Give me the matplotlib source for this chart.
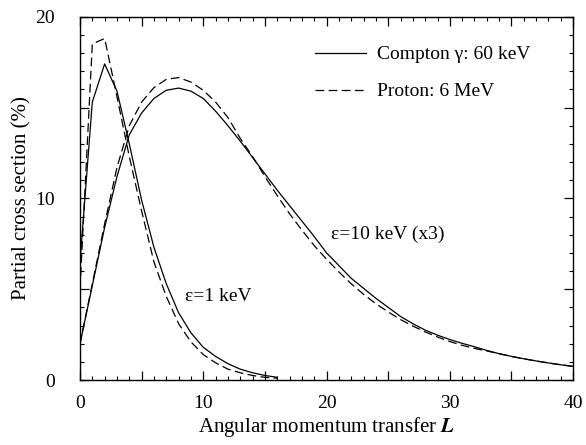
import numpy as np
import matplotlib
matplotlib.use('Agg')
import matplotlib.pyplot as plt
from matplotlib.ticker import MultipleLocator, FuncFormatter

plt.rcParams['font.family'] = ['Liberation Serif', 'DejaVu Serif']
plt.rcParams['mathtext.fontset'] = 'stix'

# angular momentum transfer L
L_low = np.arange(0, 17)
L_high = np.arange(0, 41)

# eps = 1 keV
compton_1keV = [6.5, 15.3, 17.4, 15.9, 13.0, 9.9, 7.3, 5.3, 3.7, 2.6, 1.8,
                1.3, 0.9, 0.6, 0.4, 0.25, 0.15]
proton_1keV = [5.0, 18.5, 18.8, 15.6, 12.3, 9.3, 6.5, 4.6, 3.1, 2.1, 1.4,
               0.95, 0.6, 0.4, 0.25, 0.15, 0.1]

# eps = 10 keV (x3)
compton_10keV = [2.0, 5.2, 8.4, 11.2, 13.5, 14.7, 15.5, 15.95, 16.07, 15.9,
                 15.5, 14.8, 14.0, 13.15, 12.25, 11.35, 10.45, 9.6, 8.75,
                 7.9, 7.0, 6.3, 5.6, 5.05, 4.5, 4.0, 3.5, 3.1, 2.75, 2.47,
                 2.23, 2.02, 1.83, 1.63, 1.45, 1.3, 1.17, 1.05, 0.94, 0.84,
                 0.75]
proton_10keV = [2.0, 5.3, 8.6, 11.7, 14.0, 15.3, 16.1, 16.55, 16.65, 16.4,
                15.95, 15.3, 14.45, 13.3, 12.3, 11.2, 10.15, 9.15, 8.25,
                7.4, 6.65, 5.95, 5.3, 4.72, 4.2, 3.75, 3.33, 2.97, 2.65,
                2.37, 2.12, 1.91, 1.74, 1.6, 1.45, 1.3, 1.17, 1.05, 0.94,
                0.84, 0.75]

fig = plt.figure(figsize=(5.86, 4.45), dpi=100)
ax = fig.add_axes([0.1365, 0.146, 0.978 - 0.1365, 0.9625 - 0.146])

dash = (0, (7, 3.5))
ax.plot(L_low, compton_1keV, color='black', lw=0.9, label='Compton γ: 60 keV')
ax.plot(L_low, proton_1keV, color='black', lw=0.9, linestyle=dash,
        label='Proton: 6 MeV')
ax.plot(L_high, compton_10keV, color='black', lw=0.9)
ax.plot(L_high, proton_10keV, color='black', lw=0.9, linestyle=dash)

ax.set_xlim(0, 40)
ax.set_ylim(0, 20)

ax.xaxis.set_major_locator(MultipleLocator(5))
ax.xaxis.set_minor_locator(MultipleLocator(1))
ax.yaxis.set_major_locator(MultipleLocator(5))
ax.yaxis.set_minor_locator(MultipleLocator(1))
ax.xaxis.set_major_formatter(FuncFormatter(lambda v, p: '%d' % v if v % 10 == 0 else ''))
ax.yaxis.set_major_formatter(FuncFormatter(lambda v, p: '%d' % v if v % 10 == 0 else ''))

ax.tick_params(which='both', direction='in', top=True, right=True, labelsize=14)
ax.tick_params(which='major', length=6.5, width=0.9)
ax.tick_params(which='minor', length=3, width=0.8)
ax.tick_params(axis='x', pad=11)
ax.tick_params(axis='y', pad=18)
for s in ax.spines.values():
    s.set_linewidth(1.0)

ax.set_xlabel('Angular momentum transfer $\\boldsymbol{L}$', fontsize=15, labelpad=2)
ax.set_ylabel('Partial cross section (%)', fontsize=15, labelpad=3)

ax.text(8.5, 4.6, 'ε=1 keV', fontsize=14, va='center', ha='left')
ax.text(20.4, 8.0, 'ε=10 keV (x3)', fontsize=14, va='center', ha='left')

ax.legend(loc='upper left', bbox_to_anchor=(0.4767, 0.92), frameon=False,
          fontsize=14, handlelength=2.6, handletextpad=0.6, labelspacing=1.0,
          borderpad=0, borderaxespad=0)

fig.savefig('out.png', dpi=100)
